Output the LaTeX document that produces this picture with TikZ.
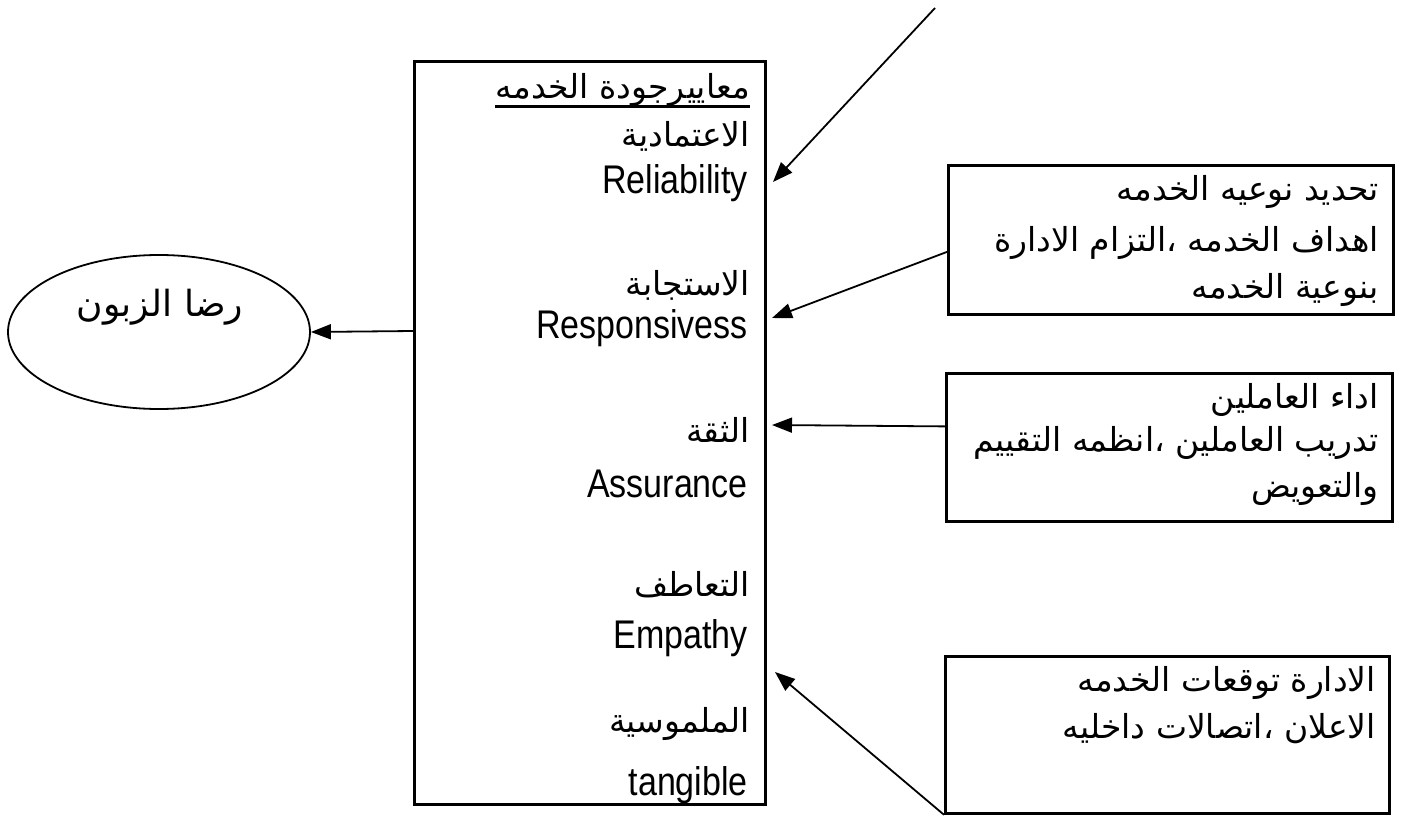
\documentclass[tikz,border=0pt]{standalone}
\usepackage{fontspec}
\setmainfont{Liberation Sans}
\newfontfamily\arabicfont[Script=Arabic]{DejaVu Sans}
\newfontfamily\latfont[FakeStretch=0.85]{Liberation Sans}
\TeXXeTstate=1
\usetikzlibrary{arrows.meta,shapes.geometric}
\begin{document}
\begin{tikzpicture}[x=1pt,y=-1pt,
  boxst/.style={draw, line width=2.8pt, inner sep=0pt, anchor=north west},
  ar/.style={font=\arabicfont\fontsize{33}{36}\selectfont, inner sep=0pt, anchor=east},
  la/.style={font=\latfont\fontsize{40}{44}\selectfont, inner sep=0pt, anchor=east},
  arr/.style={line width=1.8pt, -{Triangle[length=20pt,width=15pt]}}]
\useasboundingbox (0,0) rectangle (1403,816);

% boxes
\node[boxst, minimum width=351pt, minimum height=743pt] (crit) at (413,60) {};
\node[boxst, minimum width=445pt, minimum height=149pt] (b1) at (947,164) {};
\node[boxst, minimum width=446pt, minimum height=148pt] (b2) at (945,372) {};
\node[boxst, minimum width=444pt, minimum height=157pt] (b3) at (944,655) {};
\node[ellipse, draw, line width=1.8pt, minimum width=302pt, minimum height=154pt, inner sep=0pt] (cust) at (159,332) {};

% ellipse text
\node[ar, anchor=center, font=\arabicfont\fontsize{36}{40}\selectfont] (custt) at (160,307) {\beginR رضا الزبون\endR};

% main box texts
\node[ar] (t0) at (750,90) {\beginR معاييرجودة الخدمه\endR};
\draw[line width=2.5pt] ([yshift=-8pt]t0.base west) -- ([yshift=-8pt]t0.base east);
\node[ar] (a1) at (750,136) {\beginR الاعتمادية\endR};
\node[la] (l1) at (748,183) {Reliability};
\node[ar] (a2) at (750,285) {\beginR الاستجابة\endR};
\node[la] (l2) at (748,328) {Responsivess};
\node[ar] (a3) at (750,430) {\beginR الثقة\endR};
\node[la] (l3) at (748,484) {Assurance};
\node[ar] (a4) at (750,585) {\beginR التعاطف\endR};
\node[la] (l4) at (748,638) {Empathy};
\node[ar] (a5) at (750,724) {\beginR الملموسية\endR};
\node[la] (l5) at (748,785) {tangible};

% box 1 texts
\node[ar] (b1a) at (1379,192) {\beginR تحديد نوعيه الخدمه\endR};
\node[ar] (b1b) at (1379,243) {\beginR اهداف الخدمه ،التزام الادارة\endR};
\node[ar] (b1c) at (1379,290) {\beginR بنوعية الخدمه\endR};
% box 2 texts
\node[ar] (b2a) at (1379,400) {\beginR اداء العاملين\endR};
\node[ar] (b2b) at (1379,443) {\beginR تدريب العاملين ،انظمه التقييم\endR};
\node[ar] (b2c) at (1379,489) {\beginR والتعويض\endR};
% box 3 texts
\node[ar] (b3a) at (1376,683) {\beginR الادارة توقعات الخدمه\endR};
\node[ar] (b3b) at (1376,729) {\beginR الاعلان ،اتصالات داخليه\endR};

% connectors
\coordinate (s0) at (935,8);
\coordinate (e0) at (773,182);
\draw[arr] (s0) -- (e0);
\coordinate (s1) at ([yshift=-12pt]b1.west);
\coordinate (e1) at (772,318);
\draw[arr] (s1) -- (e1);
\coordinate (s2) at ([yshift=21pt]b2.west);
\coordinate (e2) at (772,425);
\draw[arr] (s2) -- (e2);
\coordinate (e3) at (775,672);
\draw[arr] (b3.south west) -- (e3);
\coordinate (cL) at (413,331);
\draw[arr] (cL) -- (cust.east);
\end{tikzpicture}
\end{document}
